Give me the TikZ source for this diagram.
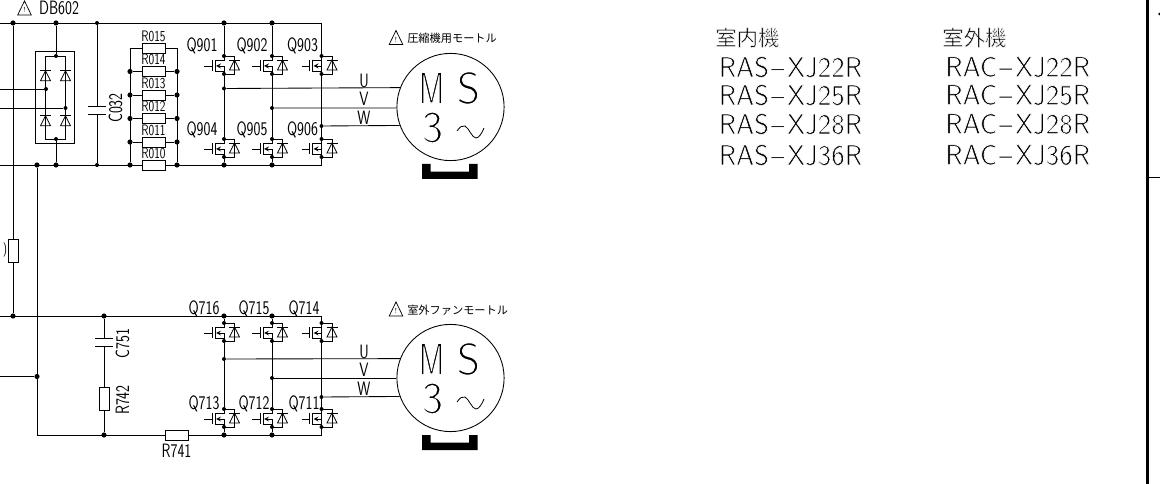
\documentclass[tikz,border=0pt]{standalone}
\usepackage{fontspec}
\newfontfamily\cadfont[FakeStretch=0.76]{Latin Modern Sans}
\newfontfamily\cadcjk{Noto Sans CJK JP}
\usetikzlibrary{arrows}
% thin the glyph strokes of the large lettering
\newcommand{\thinstroke}[2]{\special{pdf:code 2 Tr 1 1 1 RG #1 w}#2\special{pdf:code 0 Tr 0 0 0 RG 1 w}}
\tikzset{
  wire/.style={line width=0.65pt},
  dotbig/.style={circle,fill=black,inner sep=0pt,minimum size=3.9pt},
  dotsmall/.style={circle,fill=black,inner sep=0pt,minimum size=3pt},
  reshoriz/.style={draw,line width=0.6pt,fill=white,inner sep=0pt,minimum width=17.2pt,minimum height=7.6pt},
  resvert/.style={draw,line width=0.6pt,fill=white,inner sep=0pt,minimum width=7.6pt,minimum height=17.2pt},
  lblsmall/.style={inner sep=0pt,font=\cadfont\fontsize{11.4}{11.4}\selectfont},
  lblmid/.style={inner sep=0pt,font=\cadfont\fontsize{14.5}{14.5}\selectfont},
  lblbig/.style={inner sep=0pt,font=\sffamily\fontsize{21.5}{21.5}\selectfont},
  lblmotor/.style={inner sep=0pt,font=\sffamily\fontsize{34}{34}\selectfont},
  lbljp/.style={inner sep=0pt,font=\cadcjk\fontsize{8.4}{8.4}\selectfont},
  lbljpbig/.style={inner sep=0pt,font=\cadcjk\fontsize{16}{16}\selectfont},
  diodemark/.pic={
    \draw[line width=0.55pt] (-5.5,-5)--(5.5,-5);
    \draw[line width=0.55pt] (0,-5)--(5,5)--(-5,5)--cycle;
  },
  warnmark/.pic={
    \draw[line width=0.55pt] (0,-7)--(6.8,7)--(-6.8,7)--cycle;
    \node[inner sep=0pt,font=\fontsize{5.5}{5.5}\selectfont] (-ex) at (0,2) {!};
  },
  fetmark/.pic={
    \draw[wire] (0,0)--(10.5,0)--(10.5,18)--(0,18);
    \draw[wire] (0,0)--(0,4)--(-9,4)--(-9,15)--(0,15)--(0,18);
    \draw[wire] (-12,4)--(-12,15);
    \draw[wire] (-20,10)--(-12,10);
    \draw[wire,-stealth] (0,15)--(0,10)--(-8,10);
    \path (10.5,9) pic {diodemark};
    \node[dotsmall] (-d) at (0,0) {};
    \node[dotsmall] (-s) at (0,18) {};
  },
  motorbase/.pic={
    \fill (0,0)--(8.7,0)--(8.7,7.7)--(47,7.7)--(47,0)--(55.7,0)--(55.7,15)--(0,15)--cycle;
  },
  acmark/.pic={
    \draw[line width=0.6pt] (0,6) .. controls (3,2) and (5,0) .. (8,1)
      .. controls (12,3) and (15,13) .. (19,13) .. controls (22,13) and (25,8) .. (27,3);
  },
}
\begin{document}
\begin{tikzpicture}[x=0.75pt,y=-0.75pt]
\useasboundingbox (0,0) rectangle (1160,484);
%%%%% Rails %%%%%
\coordinate (topL) at (0,23);
\coordinate (topR) at (321.5,23);
\coordinate (botL) at (0,165);
\coordinate (botR) at (321.5,165);
\coordinate (fanL) at (0,316);
\coordinate (fanR) at (321.5,316);
\coordinate (inA) at (0,89);
\coordinate (inB) at (0,108);
\coordinate (inC) at (0,376.5);
\coordinate (cornerG) at (37,435);
\coordinate (gndR) at (321.5,435);
\node[dotbig] (t1) at (13,23) {};
\node[dotbig] (t2) at (56,23) {};
\node[dotsmall] (t3) at (97,23) {};
\node[dotbig] (t4) at (224,23) {};
\node[dotbig] (t5) at (272,23) {};
\node[dotbig] (b1) at (37,165) {};
\node[dotbig] (b2) at (56,165) {};
\node[dotsmall] (b3) at (97,165) {};
\node[dotbig] (b4) at (130,165) {};
\node[dotbig] (b5) at (177,165) {};
\node[dotbig] (b6) at (224,165) {};
\node[dotbig] (b7) at (272,165) {};
\node[dotbig] (f1) at (13,316) {};
\node[dotbig] (f2) at (104,316) {};
\node[dotbig] (f3) at (224,316) {};
\node[dotbig] (f4) at (272,316) {};
\node[dotbig] (g1) at (37,376.5) {};
\node[dotbig] (g2) at (104,435) {};
\node[dotbig] (g3) at (224,435) {};
\node[dotbig] (g4) at (272,435) {};
\draw[wire] (topL)--(topR)--(botR)--(botL);
\draw[wire] (fanL)--(fanR)--(gndR)--(cornerG)--(b1);
\draw[wire] (inC)--(g1);
%%%%% Left fuse %%%%%
\node[resvert] (Rleft) at (13,250.5) {};
\draw[wire] (t1)--(Rleft)--(f1);
\node[inner sep=0pt,font=\cadfont\fontsize{10.8}{10.8}\selectfont] (parenL) at (5,250) {)};
%%%%% Bridge %%%%%
\node[draw,line width=0.6pt,minimum width=29.2pt,minimum height=69pt,inner sep=0pt] (DBbox) at (54.5,97) {};
\node[dotsmall] (DBtop) at (56,56) {};
\node[dotsmall] (DBbot) at (56,139) {};
\node[dotsmall] (DBa) at (46,89) {};
\node[dotsmall] (DBb) at (65.5,108) {};
\draw[wire] (t2)--(DBtop);
\draw[wire] (DBbot)--(b2);
\coordinate (DBtl) at (45.5,56);
\coordinate (DBbr) at (65.5,139);
\draw[wire] (DBtl) rectangle (DBbr);
\draw[wire] (inA)--(DBa);
\draw[wire] (inB)--(DBb);
\foreach \x in {45.5,65.5}{
  \foreach \y in {75.7,120.7}{
    \path (\x,\y) pic {diodemark};
  }
}
\node[lblmid] (DBname) at (59,8) {DB602};
\path (24.5,8) pic (warnDB) {warnmark};
%%%%% C032 %%%%%
\coordinate (C032a) at (97,106);
\coordinate (C032b) at (97,114);
\draw[wire] (t3)--(C032a);
\draw[wire] (C032b)--(b3);
\draw[line width=0.7pt] (88,106)--(106,106) (88,114)--(106,114);
\node[lblmid,rotate=90] (C032name) at (115.5,108) {C032};
%%%%% Resistor bank %%%%%
\coordinate (busLt) at (130,48);
\coordinate (busRt) at (177,48);
\draw[wire] (busLt)--(b4);
\draw[wire] (busRt)--(b5);
\foreach \nm/\y in {015/48,014/71.5,013/95,012/118.5,011/142,010/165}{
  \node[reshoriz] (R\nm) at (153.5,\y) {};
  \node[lblsmall,above=0.4pt] (L\nm) at (R\nm.north) {R\nm};
}
\draw[wire] (busLt)--(R015)--(busRt);
\foreach \nm/\y in {014/71.5,013/95,012/118.5,011/142}{
  \node[dotbig] (dl\nm) at (130,\y) {};
  \node[dotbig] (dr\nm) at (177,\y) {};
  \draw[wire] (dl\nm)--(R\nm)--(dr\nm);
}
%%%%% Compressor inverter %%%%%
\foreach \nm/\x/\y in {a/224/56,b/272/56,c/321.5/56,d/224/139,e/272/139,f/321.5/139}{
  \path (\x,\y) pic (fet\nm) {fetmark};
}
\draw[wire] (t4)--(feta-d);
\draw[wire] (feta-s)--(fetd-d);
\draw[wire] (fetd-s)--(b6);
\draw[wire] (t5)--(fetb-d);
\draw[wire] (fetb-s)--(fete-d);
\draw[wire] (fete-s)--(b7);
\foreach \nm/\x/\y in {901/202/46,902/252/46,903/302.5/46,904/202/129.5,905/252/129.5,906/302.5/129.5}{
  \node[lblmid] (Q\nm) at (\x,\y) {Q\nm};
}
\node[draw,circle,line width=0.65pt,minimum size=80.4pt,inner sep=0pt] (motorA) at (450.5,107) {};
\node[dotsmall] (ua) at (224,88.5) {};
\node[dotsmall] (va) at (272,108) {};
\node[dotsmall] (wa) at (321.5,126) {};
\draw[wire] (ua)--(motorA.159.8);
\draw[wire] (va)--(motorA.181);
\draw[wire] (wa)--(motorA.200.8);
\node[lblmid] (Ua) at (364,81) {U};
\node[lblmid] (Va) at (364,99) {V};
\node[lblmid] (Wa) at (364,118) {W};
\node[lblmotor,transform shape,xscale=.7] (Ma) at (431.5,88) {\thinstroke{1}{M}};
\node[lblmotor] (Sa) at (468.5,88) {\thinstroke{1}{S}};
\node[lblmotor] (Na) at (432.5,127.5) {\thinstroke{1}{3}};
\path (457,125) pic {acmark};
\path (422,164) pic {motorbase};
\path (396,37.5) pic (warnA) {warnmark};
\node[lbljp,anchor=west] (titleA) at (407,38) {圧縮機用モートル};
%%%%% Fan inverter %%%%%
\foreach \nm/\x/\y in {g/224/323,h/272/323,i/321.5/323,j/224/409,k/272/409,l/321.5/409}{
  \path (\x,\y) pic (fet\nm) {fetmark};
}
\draw[wire] (f3)--(fetg-d);
\draw[wire] (fetg-s)--(fetj-d);
\draw[wire] (fetj-s)--(g3);
\draw[wire] (f4)--(feth-d);
\draw[wire] (feth-s)--(fetk-d);
\draw[wire] (fetk-s)--(g4);
\foreach \nm/\x/\y in {716/204/309,715/254/309,714/304/309,713/204/404,712/254/404,711/304/404}{
  \node[lblmid] (Q\nm) at (\x,\y) {Q\nm};
}
\node[draw,circle,line width=0.65pt,minimum size=80.4pt,inner sep=0pt] (motorB) at (450.5,378) {};
\node[dotsmall] (ub) at (224,359) {};
\node[dotsmall] (vb) at (272,378) {};
\node[dotsmall] (wb) at (321.5,397) {};
\draw[wire] (ub)--(motorB.159.2);
\draw[wire] (vb)--(motorB.180);
\draw[wire] (wb)--(motorB.200.8);
\node[lblmid] (Ub) at (364,351.5) {U};
\node[lblmid] (Vb) at (364,370) {V};
\node[lblmid] (Wb) at (364,389) {W};
\node[lblmotor,transform shape,xscale=.7] (Mb) at (431.5,359) {\thinstroke{1}{M}};
\node[lblmotor] (Sb) at (468.5,359) {\thinstroke{1}{S}};
\node[lblmotor] (Nb) at (432.5,398.5) {\thinstroke{1}{3}};
\path (457,396) pic {acmark};
\path (422,435) pic {motorbase};
\path (396,309) pic (warnB) {warnmark};
\node[lbljp,anchor=west] (titleB) at (407,310) {室外ファンモートル};
%%%%% Snubber %%%%%
\coordinate (C751a) at (104,338);
\coordinate (C751b) at (104,346);
\draw[wire] (f2)--(C751a);
\draw[line width=0.7pt] (95,338)--(113,338) (95,346)--(113,346);
\node[resvert] (R742) at (104,398.5) {};
\draw[wire] (C751b)--(R742)--(g2);
\node[lblmid,rotate=90] (C751name) at (122.5,343.5) {C751};
\node[lblmid,rotate=90] (R742name) at (122.5,400) {R742};
\node[reshoriz] (R741) at (176.5,435) {};
\node[lblmid] (R741name) at (176.5,451) {R741};
%%%%% Model table %%%%%
\node[lbljpbig,anchor=west] (headIn) at (715,37.5) {\thinstroke{0.35}{室内機}};
\node[lbljpbig,anchor=west] (headOut) at (942,37.5) {\thinstroke{0.35}{室外機}};
\foreach \md/\y in {22/67,25/95,28/124,36/155}{
  \node[lblbig,anchor=west] (ras\md) at (718.5,\y) {\thinstroke{0.5}{RAS\kern1.5pt--\kern2pt XJ\md R}};
  \node[lblbig,anchor=west] (rac\md) at (945,\y) {\thinstroke{0.5}{RAC\kern1.5pt--\kern2pt XJ\md R}};
}
%%%%% Frame %%%%%
\coordinate (frT) at (1147.3,0);
\coordinate (frB) at (1147.3,484);
\coordinate (frM) at (1147.3,177);
\coordinate (frE) at (1160,177);
\draw[line width=1.8pt] (frT)--(frB);
\draw[wire] (frM)--(frE);
\fill (1159.5,14) circle (1pt);
\end{tikzpicture}
\end{document}
